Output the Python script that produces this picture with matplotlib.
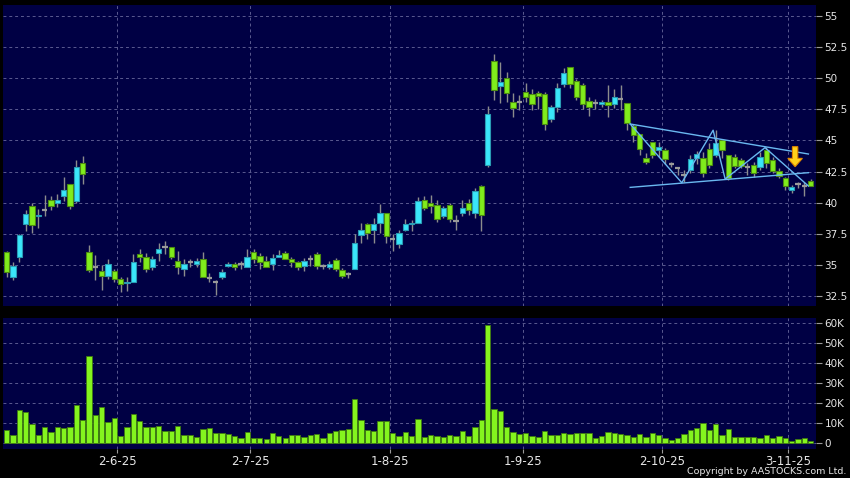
import matplotlib
matplotlib.use("Agg")
import matplotlib.pyplot as plt
from matplotlib.patches import FancyArrow
import numpy as np

# daily OHLC, one entry per trading day (index 0 .. 127)
opens = [36.0, 34.0, 35.65, 38.3, 39.7, 38.9, 39.4, 40.2, 40.0, 40.55, 41.5, 40.15, 43.15,
         36.0, 34.8, 34.5, 34.15, 34.5, 33.85, 33.55, 33.65, 35.9, 35.65, 34.8, 35.95, 36.4,
         36.4, 35.35, 34.7, 35.2, 35.1, 35.5, 33.95, 33.6, 34.05, 34.95, 35.1, 35.05, 34.85,
         36.05, 35.75, 35.35, 35.1, 35.65, 35.95, 35.45, 35.2, 34.9, 35.5, 35.9, 34.9, 34.8,
         35.4, 34.6, 34.3, 34.65, 37.4, 38.25, 37.8, 38.4, 39.2, 37.1, 36.7, 37.8, 38.3, 38.4,
         40.25, 40.0, 39.85, 38.95, 39.8, 38.55, 39.2, 40.0, 39.2, 41.35, 43.0, 51.4, 49.4,
         50.0, 48.05, 48.1, 48.9, 48.7, 48.85, 48.7, 46.7, 47.7, 49.5, 50.9, 49.8, 49.45, 48.2,
         48.0, 47.95, 48.1, 47.95, 48.3, 48.0, 46.15, 45.55, 43.55, 44.9, 44.25, 44.25, 43.1,
         42.75, 42.25, 42.6, 43.55, 43.55, 44.3, 43.8, 45.0, 43.8, 43.7, 43.4, 42.9, 43.0, 42.9,
         44.25, 43.4, 42.55, 41.95, 41.0, 41.5, 41.35, 41.75]
highs = [36.15, 35.2, 37.5, 39.4, 40.0, 39.5, 40.6, 40.5, 40.7, 42.1, 41.5, 43.4, 43.75,
         36.6, 35.8, 35.0, 35.5, 34.7, 34.05, 34.05, 35.9, 36.3, 35.95, 35.75, 36.75, 36.95,
         36.4, 36.1, 35.5, 35.5, 35.55, 36.05, 34.35, 33.75, 34.7, 35.25, 35.25, 35.35, 36.3,
         36.3, 35.95, 35.7, 35.9, 36.2, 36.1, 35.65, 35.35, 35.55, 35.8, 36.0, 35.1, 35.35,
         35.55, 34.75, 34.45, 37.5, 38.35, 38.4, 38.8, 39.9, 39.2, 37.5, 37.8, 38.65, 38.6,
         40.45, 40.5, 40.6, 40.2, 39.7, 39.95, 39.0, 40.25, 40.3, 41.2, 41.4, 47.75, 51.95,
         51.3, 50.5, 48.8, 48.65, 49.6, 49.15, 49.0, 48.9, 47.85, 49.6, 50.8, 50.9, 49.9, 49.6,
         48.5, 48.3, 48.25, 49.45, 49.1, 49.45, 48.0, 46.3, 45.55, 44.0, 44.9, 44.9, 44.4,
         43.3, 42.9, 42.6, 43.85, 44.15, 44.05, 44.8, 45.8, 45.15, 43.85, 43.95, 43.6, 43.15,
         43.3, 44.1, 44.5, 43.65, 42.75, 42.1, 41.45, 41.7, 41.7, 41.9]
lows = [34.05, 33.8, 35.25, 37.7, 37.6, 38.0, 38.9, 39.4, 39.65, 40.1, 39.5, 40.0, 41.5,
        34.45, 33.8, 33.0, 33.9, 33.65, 32.85, 32.9, 33.65, 35.25, 34.45, 34.6, 35.3, 35.9,
        35.45, 34.3, 34.15, 34.8, 34.85, 34.0, 33.65, 32.6, 33.85, 34.85, 34.6, 34.7, 34.85,
        35.15, 34.7, 34.85, 34.6, 35.65, 35.45, 34.8, 34.6, 34.5, 34.9, 34.7, 34.7, 34.65,
        34.55, 33.95, 33.95, 34.65, 36.8, 37.1, 36.8, 37.6, 36.8, 36.15, 36.35, 37.7, 37.7,
        38.4, 39.45, 39.2, 38.45, 38.8, 38.45, 37.8, 38.95, 39.05, 38.75, 37.7, 42.9, 48.25,
        48.0, 48.1, 46.85, 47.45, 48.1, 47.45, 47.55, 45.85, 46.5, 47.3, 49.3, 49.2, 48.25,
        47.55, 47.0, 47.5, 47.7, 46.9, 47.6, 47.45, 45.85, 44.9, 43.8, 43.1, 43.6, 43.7, 43.1,
        42.9, 42.25, 41.7, 42.4, 43.1, 42.05, 42.8, 43.65, 43.55, 41.8, 42.75, 42.75, 42.2,
        42.05, 42.6, 42.75, 42.35, 41.95, 41.0, 40.8, 41.2, 40.5, 41.3]
closes = [34.45, 34.9, 37.4, 39.1, 38.2, 39.05, 39.4, 39.75, 40.2, 41.0, 39.75, 42.9, 42.3,
          34.6, 34.8, 34.15, 35.05, 33.9, 33.5, 33.65, 35.2, 35.6, 34.65, 35.5, 36.3, 36.4,
          35.6, 34.8, 35.05, 35.2, 35.35, 34.0, 33.95, 33.6, 34.45, 35.1, 34.8, 35.05, 35.6,
          35.45, 35.2, 34.85, 35.55, 35.8, 35.45, 35.2, 34.8, 35.35, 35.5, 34.9, 34.9, 35.1,
          34.65, 34.1, 34.3, 36.75, 37.8, 37.55, 38.25, 39.2, 37.3, 37.1, 37.6, 38.25, 38.4,
          40.15, 39.6, 39.75, 38.65, 39.55, 38.65, 38.55, 39.6, 39.4, 40.9, 39.05, 47.1, 49.05,
          49.7, 48.8, 47.6, 48.1, 48.45, 47.95, 48.55, 46.3, 47.65, 49.2, 50.4, 49.55, 48.45,
          47.9, 47.7, 48.0, 48.1, 47.85, 48.45, 48.3, 46.4, 45.45, 44.35, 43.25, 43.85, 44.5,
          43.5, 43.1, 42.75, 42.25, 43.5, 43.9, 42.4, 43.0, 44.8, 44.2, 41.95, 42.95, 42.95,
          42.9, 42.4, 43.7, 43.15, 42.55, 42.15, 41.3, 41.25, 41.5, 41.35, 41.35]
volume_k = [6.7, 4.2, 16.7, 15.8, 9.7, 4.2, 8.0, 5.5, 8.0, 7.5, 8.0, 19.0, 11.7, 43.8, 14.2,
            18.0, 10.7, 12.5, 3.7, 8.0, 14.5, 11.2, 8.3, 8.2, 8.7, 6.3, 6.0, 8.5, 4.2, 4.2,
            3.2, 7.0, 7.5, 5.0, 5.2, 4.8, 3.7, 2.7, 5.7, 2.8, 2.5, 2.2, 5.3, 3.5, 2.5, 4.2,
            4.0, 3.2, 4.3, 4.5, 2.8, 5.0, 6.2, 6.5, 7.2, 22.3, 11.8, 6.5, 6.2, 11.3, 11.3, 5.0,
            3.7, 5.5, 3.5, 12.0, 3.3, 4.2, 3.8, 3.3, 4.2, 3.5, 6.2, 3.7, 8.3, 11.7, 59.2, 17.2,
            16.2, 8.2, 5.5, 4.7, 5.0, 3.7, 3.3, 6.2, 4.2, 4.2, 5.0, 4.7, 5.2, 5.2, 5.0, 2.7,
            3.8, 5.5, 5.0, 4.7, 4.2, 3.3, 4.5, 3.3, 5.0, 4.0, 2.8, 1.7, 2.5, 4.5, 6.7, 7.5,
            10.0, 6.7, 9.7, 4.2, 7.2, 3.2, 3.0, 3.3, 3.3, 2.5, 4.3, 2.7, 3.5, 2.5, 1.2, 2.2,
            2.7, 1.2]

# month ticks: index of first trading day of the month
month_idx = [18, 39, 61, 82, 104, 124]
month_labels = ["2-6-25", "2-7-25", "1-8-25", "1-9-25", "2-10-25", "3-11-25"]
price_ticks = [32.5, 35, 37.5, 40, 42.5, 45, 47.5, 50, 52.5, 55]
vol_ticks = [0, 10, 20, 30, 40, 50, 60]

# hand-drawn triangle / zigzag (index, price)
upper_line = [(98.5, 46.32), (126.65, 43.91)]
lower_line = [(98.5, 41.23), (126.65, 42.41)]
zigzag = [(98.5, 46.32), (106.65, 41.6), (111.6, 45.82), (113.5, 41.9),
          (119.8, 44.42), (126.65, 41.34)]
arrow_at = (124.55, 44.5, 42.89)

n = len(closes)
assert len(opens) == len(highs) == len(lows) == n == len(volume_k)
o, h, l, c = map(np.array, (opens, highs, lows, closes))
x = np.arange(n)
vol = np.array(volume_k) * 1000

BG = "#000044"
GRID = "#5a5a90"
TXT = "#e6e6e6"
UP, UP_E = "#3ae6fa", "#2a9cb4"
DN, DN_E = "#80ec1c", "#4c8a12"
DOJI = "#9a9a9a"

fig = plt.figure(figsize=(8.5, 4.78), dpi=100, facecolor="black")
ax = fig.add_axes([3 / 850, 1 - 306 / 478, 813 / 850, 301 / 478], facecolor=BG)
axv = fig.add_axes([3 / 850, 1 - 449 / 478, 813 / 850, 131 / 478], facecolor=BG)

w = 0.85
ax.vlines(x, l, h, color="#8c8c8c", lw=1.0, zorder=2)
up = c > o
dn = c < o
eq = c == o
ax.bar(x[up], (c - o)[up], w, bottom=o[up], color=UP, edgecolor=UP_E, lw=0.8, zorder=3)
ax.bar(x[dn], (o - c)[dn], w, bottom=c[dn], color=DN, edgecolor=DN_E, lw=0.8, zorder=3)
ax.hlines(c[eq], x[eq] - w / 2, x[eq] + w / 2, color=DOJI, lw=1.6, zorder=3)

lc = "#6ab8f0"
for seg in (upper_line, lower_line, zigzag):
    xs, ys = zip(*seg)
    ax.plot(xs, ys, color=lc, lw=1.0, zorder=4)
ax_x, y0, y1 = arrow_at
ax.add_patch(FancyArrow(ax_x, y0, 0, y1 - y0, width=0.85, head_width=2.3,
                        head_length=0.67, length_includes_head=True,
                        facecolor="#ffd21a", edgecolor="#e08600", lw=0.8, zorder=5))

axv.bar(x, vol, 0.84, color="#84f41e", edgecolor="#3f7a10", lw=0.6, zorder=3)

xlim = (-0.57, 127.85)
for a in (ax, axv):
    a.set_xlim(*xlim)
    a.set_xticks([i - 0.5 for i in month_idx])
    a.yaxis.tick_right()
    a.grid(True, color=GRID, lw=0.7, ls=(0, (3, 3)), zorder=0)
    for s in a.spines.values():
        s.set_visible(False)
    a.tick_params(axis="y", colors="#9a9a9a", labelcolor=TXT, labelsize=7.5,
                  length=4, pad=2)

ax.set_ylim(31.70, 55.88)
ax.set_yticks(price_ticks)
ax.set_yticklabels([f"{t:g}" for t in price_ticks])
ax.tick_params(axis="x", length=0, labelbottom=False)

axv.set_ylim(-2.85e3, 62.65e3)
axv.set_yticks([v * 1000 for v in vol_ticks])
axv.set_yticklabels([f"{v}K" if v else "0" for v in vol_ticks])
axv.set_xticklabels(month_labels)
axv.tick_params(axis="x", colors="#9a9a9a", labelcolor=TXT, labelsize=8.5,
                length=3, pad=1)

fig.text(846 / 850, 1 - 471 / 478, "Copyright by AASTOCKS.com Ltd.", color=TXT,
         fontsize=6.8, ha="right", va="center")

fig.savefig("out.png", dpi=100, facecolor="black")
